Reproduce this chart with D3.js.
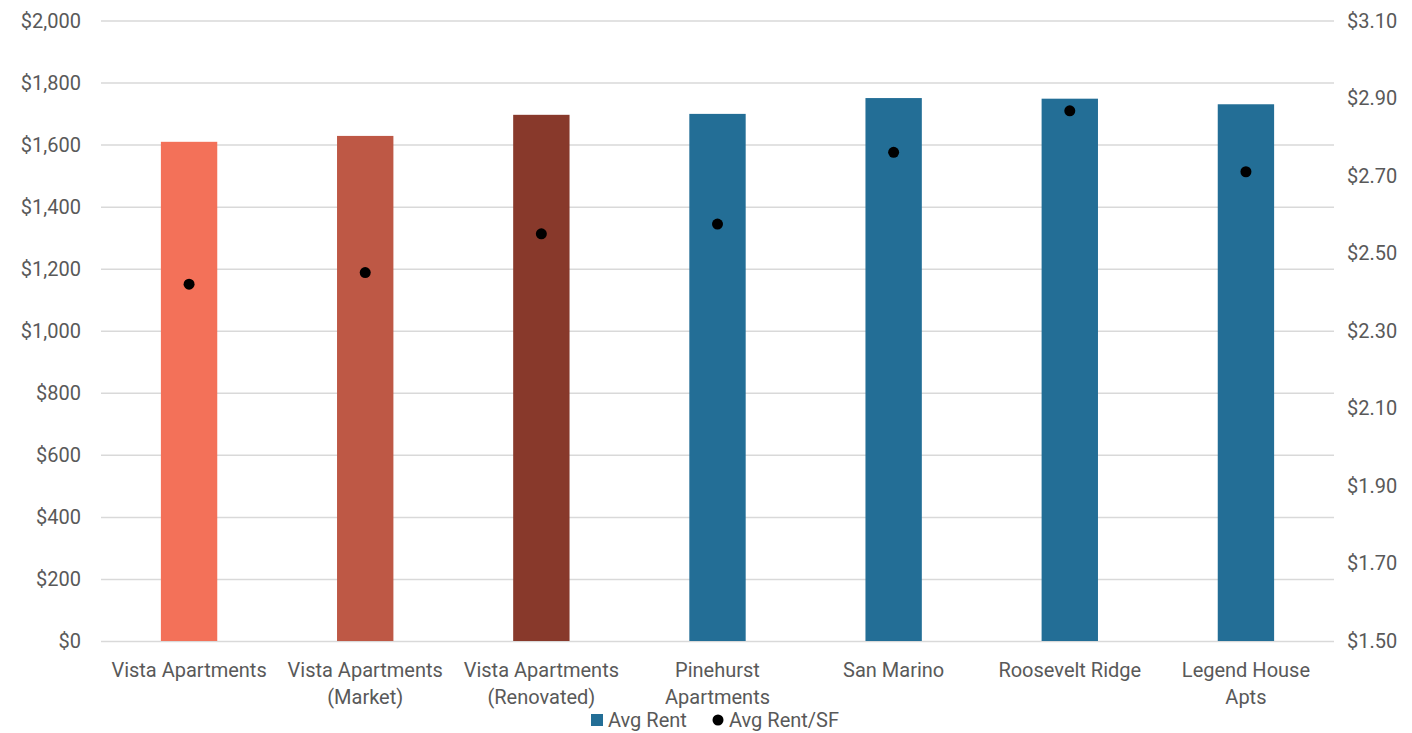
<html>
<head>
    <script src="https://d3js.org/d3.v7.min.js"></script>
    <style>
        body { margin: 0; background: #fff; }
        text { font-family: Roboto, "DejaVu Sans", sans-serif; fill: #595959; }
        .gridlines line { stroke: #d9d9d9; stroke-width: 1.5; }
        .gridlines .domain { stroke: none; }
    </style>
</head>
<body>
    <svg id="chart" width="1412" height="733"></svg>
    <script>
        const properties = ["Vista Apartments", "Vista Apartments (Market)", "Vista Apartments (Renovated)",
            "Pinehurst Apartments", "San Marino", "Roosevelt Ridge", "Legend House Apts"];
        const labelLines = [["Vista Apartments"], ["Vista Apartments", "(Market)"], ["Vista Apartments", "(Renovated)"],
            ["Pinehurst", "Apartments"], ["San Marino"], ["Roosevelt Ridge"], ["Legend House", "Apts"]];
        const avgRent = [1609, 1628, 1696, 1699, 1750, 1748, 1730];
        const avgRentSF = [2.42, 2.45, 2.55, 2.575, 2.76, 2.867, 2.71];
        const barColors = ["#f37159", "#be5845", "#88392b", "#236e96", "#236e96", "#236e96", "#236e96"];
        const leftTicks = [0, 200, 400, 600, 800, 1000, 1200, 1400, 1600, 1800, 2000];
        const rightTicks = [1.5, 1.7, 1.9, 2.1, 2.3, 2.5, 2.7, 2.9, 3.1];

        const svg = d3.select("#chart");
        const plotLeft = 101, plotRight = 1334, plotTop = 20.5, plotBottom = 641;
        const fs = 20;

        const x = d3.scaleBand().domain(properties).range([plotLeft, plotRight])
            .paddingInner(0.68).paddingOuter(0.34);
        const yL = d3.scaleLinear().domain([0, 2000]).range([plotBottom, plotTop]);
        const yR = d3.scaleLinear().domain([1.5, 3.1]).range([plotBottom, plotTop]);

        // gridlines
        svg.append("g")
            .attr("class", "gridlines")
            .attr("transform", "translate(" + plotLeft + ",0)")
            .call(d3.axisLeft(yL).tickValues(leftTicks).tickSize(-(plotRight - plotLeft)).tickFormat(""));

        // left axis labels
        const fmtL = d3.format("$,.0f");
        svg.append("g").selectAll("text").data(leftTicks).join("text")
            .attr("x", 81).attr("y", d => yL(d))
            .attr("dy", "0.35em")
            .attr("text-anchor", "end")
            .attr("font-size", fs)
            .text(d => fmtL(d));

        // right axis labels
        const fmtR = d3.format("$.2f");
        svg.append("g").selectAll("text").data(rightTicks).join("text")
            .attr("x", 1347).attr("y", d => yR(d))
            .attr("dy", "0.35em")
            .attr("text-anchor", "start")
            .attr("font-size", fs)
            .text(d => fmtR(d));

        // bars
        svg.append("g").selectAll("rect").data(properties).join("rect")
            .attr("x", d => x(d))
            .attr("width", x.bandwidth())
            .attr("y", (d, i) => yL(avgRent[i]))
            .attr("height", (d, i) => plotBottom - yL(avgRent[i]))
            .attr("fill", (d, i) => barColors[i]);

        // dots
        svg.append("g").selectAll("circle").data(properties).join("circle")
            .attr("cx", d => x(d) + x.bandwidth() / 2)
            .attr("cy", (d, i) => yR(avgRentSF[i]))
            .attr("r", 5.5)
            .attr("fill", "#000");

        // category labels
        const cat = svg.append("g").selectAll("text").data(properties).join("text")
            .attr("x", d => x(d) + x.bandwidth() / 2)
            .attr("y", 677)
            .attr("text-anchor", "middle")
            .attr("font-size", fs);
        cat.each(function (d, i) {
            d3.select(this).selectAll("tspan").data(labelLines[i]).join("tspan")
                .attr("x", x(d) + x.bandwidth() / 2)
                .attr("dy", (t, j) => j === 0 ? 0 : 27)
                .text(t => t);
        });

        // legend
        const legend = svg.append("g");
        legend.append("rect").attr("x", 591).attr("y", 714).attr("width", 12).attr("height", 12).attr("fill", "#236e96");
        legend.append("text").attr("x", 608).attr("y", 720).attr("dy", "0.35em").attr("font-size", fs).text("Avg Rent");
        legend.append("circle").attr("cx", 718).attr("cy", 720).attr("r", 5.5).attr("fill", "#000");
        legend.append("text").attr("x", 729).attr("y", 720).attr("dy", "0.35em").attr("font-size", fs).text("Avg Rent/SF");
    </script>
</body>
</html>
